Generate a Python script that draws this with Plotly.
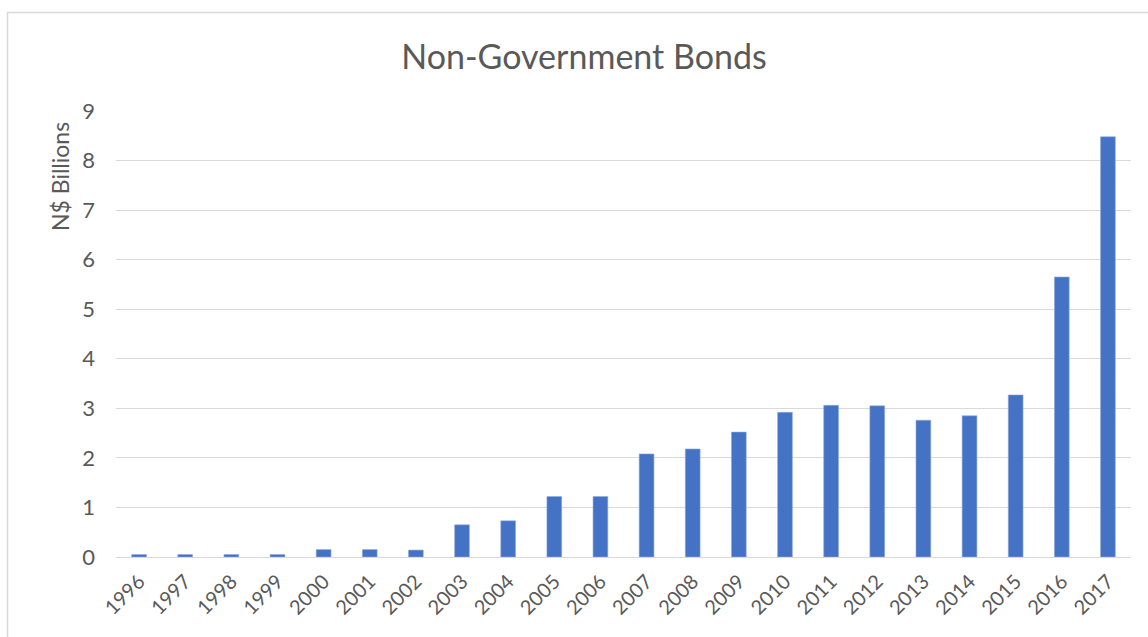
import plotly.graph_objects as go

years = [str(y) for y in range(1996, 2018)]
values = [0.05, 0.05, 0.05, 0.05, 0.15, 0.15, 0.14, 0.65, 0.73, 1.22, 1.22,
          2.08, 2.18, 2.52, 2.92, 3.06, 3.05, 2.76, 2.85, 3.27, 5.65, 8.48]
y_ticks = list(range(0, 10))

FONT = "Lato"
GREY = "#595959"

fig = go.Figure()
fig.add_trace(go.Bar(
    x=years, y=values,
    marker=dict(color="#4472C4", line=dict(color="#8FAADC", width=0.6)),
    width=0.32,
))

L, R, T, B = 116, 17, 111, 80
W, H = 1148, 637
pw, ph = W - L - R, H - T - B

fig.update_layout(
    width=W, height=H,
    margin=dict(l=L, r=R, t=T, b=B, pad=0),
    paper_bgcolor="white", plot_bgcolor="white",
    showlegend=False,
    font=dict(family=FONT, color=GREY, size=20),
    title=dict(text="Non-Government Bonds", x=584 / W, xref="container", xanchor="center",
               y=1 - 57 / H, yanchor="middle", yref="container",
               font=dict(family=FONT, size=34, color=GREY)),
    xaxis=dict(type="category", showgrid=False, zeroline=False, showline=False,
               tickangle=-45, tickfont=dict(size=20, color=GREY), ticks="",
               ticklabelstandoff=8),
    yaxis=dict(range=[0, 9], tickvals=y_ticks, showgrid=True, gridcolor="#D9D9D9",
               gridwidth=1, zeroline=True, zerolinecolor="#D9D9D9", zerolinewidth=1,
               showline=False, ticks="", ticklabelstandoff=20,
               tickfont=dict(size=22, color=GREY)),
    bargap=0.68,
)

fig.add_annotation(
    text="N$ Billions", textangle=-90, showarrow=False,
    xref="paper", yref="paper",
    x=(60 - L) / pw, y=(H - B - 177) / ph, xanchor="center", yanchor="middle",
    font=dict(family=FONT, size=23, color=GREY),
)

fig.add_shape(
    type="rect", xref="paper", yref="paper",
    x0=(7.5 - L) / pw, x1=(W + 20 - L) / pw,
    y0=-(B + 20) / ph, y1=1 + (T - 12.5) / ph,
    line=dict(color="#D9D9D9", width=1.5), fillcolor="rgba(0,0,0,0)", layer="below",
)

fig.write_html("out.html")
